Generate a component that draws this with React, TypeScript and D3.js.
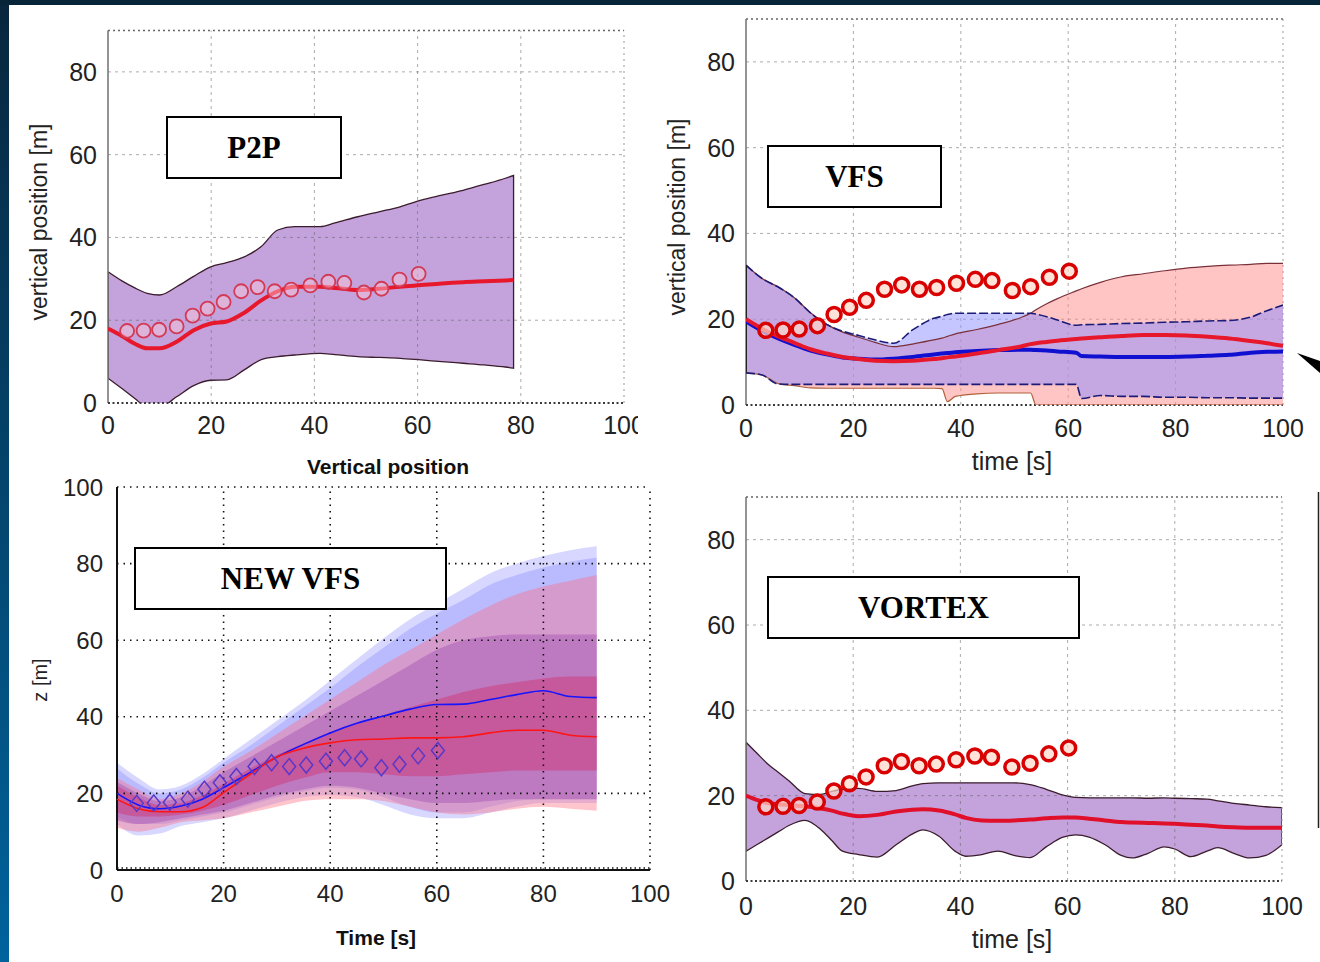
import React from 'react';
import * as d3 from 'd3';

// observed trajectory (same measurements in every panel)
const obsTime = [3.7, 6.9, 9.9, 13.3, 16.4, 19.3, 22.4, 25.8, 29.0, 32.3, 35.5, 39.2, 42.7, 45.8, 49.6, 53.0, 56.5, 60.2];
const obsZ = [17.4, 17.5, 17.7, 18.5, 21.1, 22.8, 24.4, 27.0, 28.0, 27.0, 27.4, 28.4, 29.3, 29.0, 26.7, 27.6, 29.8, 31.2];

// P2P
const p2pTime = [0, 2.7, 5.2, 7.6, 10, 13.3, 16.6, 19.9, 23, 26.4, 29.7, 32.9, 36.2, 41.1, 44, 48.4, 52.5, 56.6, 60.7, 64.7, 68.8, 72.9, 77, 78.6];
const p2pUpper = [31.7, 29.5, 27.8, 26.5, 26.1, 28.1, 30.6, 32.9, 33.9, 35.3, 37.8, 41.8, 42.6, 42.6, 43.5, 45, 46.2, 47.4, 49, 50.2, 51.4, 52.8, 54.3, 55];
const p2pLower = [6, 3.5, 1.1, -1, -1, 1.5, 4.2, 5.5, 5.6, 8, 10.5, 11.2, 11.6, 12, 11.7, 11.2, 11, 10.8, 10.4, 10, 9.6, 9.2, 8.7, 8.4];
const p2pMean = [18, 16.2, 14.3, 13.2, 13.2, 14.8, 17.6, 19.2, 19.7, 21.8, 24.8, 27, 28.1, 28.1, 27.8, 27.3, 27.6, 28.1, 28.5, 28.9, 29.2, 29.4, 29.6, 29.7];

// VFS
const vfsTime = [0, 3, 6, 9, 12, 15, 18, 21, 24, 27.5, 31, 35, 36.5, 37.5, 39, 43, 47, 51, 53, 54, 56, 58, 61.5, 62.5, 66, 70, 74, 78, 82, 86, 90, 94, 97, 100];
const vfsBlueUpper = [32.6, 29.5, 27.5, 25, 21.5, 18.8, 17.2, 16.2, 15.2, 14.4, 17.5, 20.2, 20.7, 21.1, 21.4, 21.4, 21.4, 21.4, 21.4, 21.2, 20.6, 19.8, 18.6, 18.7, 18.8, 19, 19.1, 19.3, 19.4, 19.6, 19.7, 20.5, 22, 23.3];
const vfsBlueLower = [7.5, 7, 4.9, 4.8, 4.8, 4.8, 4.8, 4.8, 4.8, 4.8, 4.8, 4.8, 4.8, 4.8, 4.8, 4.8, 4.8, 4.8, 4.8, 4.8, 4.8, 4.8, 4.8, 1.5, 2.2, 2, 2, 1.8, 1.8, 1.7, 1.7, 1.6, 1.6, 1.6];
const vfsRedUpper = [32.6, 29.5, 27.5, 25, 21.5, 18.8, 17, 15.8, 14.6, 13.6, 14.2, 15.2, 15.6, 16, 16.6, 17.6, 18.8, 20.3, 21.4, 22.2, 23.6, 24.8, 26.6, 27.1, 28.6, 29.9, 30.6, 31.3, 31.9, 32.3, 32.6, 32.8, 33, 33];
const vfsRedLower = [7.5, 7, 5, 4.5, 4, 3.9, 3.9, 3.9, 3.9, 3.9, 3.9, 3.9, 3.8, 0.8, 2, 2.6, 2.8, 2.8, 2.8, 0, 0, 0, 0, 0, 0, 0, 0, 0, 0, 0, 0, 0, 0, 0];
const vfsRedMean = [20, 17.8, 16, 14.5, 13, 12, 11.2, 10.7, 10.3, 10.2, 10.3, 10.7, 10.9, 11.1, 11.3, 12, 12.8, 13.6, 14.2, 14.4, 14.7, 15, 15.4, 15.5, 15.8, 16.1, 16.3, 16.3, 16.2, 15.9, 15.5, 14.9, 14.4, 13.8];
const vfsBlueMean = [19.5, 17.3, 15.5, 14, 12.7, 11.8, 11.1, 10.8, 10.6, 10.8, 11.2, 11.8, 12, 12.1, 12.3, 12.6, 12.8, 12.9, 12.9, 12.8, 12.7, 12.5, 12.2, 11.4, 11.3, 11.2, 11.2, 11.2, 11.3, 11.5, 11.7, 12.2, 12.4, 12.5];

// NEW VFS
const newTime = [0, 4, 8, 12, 16, 20, 25, 30, 35, 40, 45, 50, 55, 60, 65, 70, 75, 80, 85, 90];
const newBlueOutUp = [28, 24, 21, 22, 25, 29, 34, 39, 44, 49.5, 55, 60.5, 65.5, 69.5, 73.5, 77.5, 80, 82, 83.5, 84.5];
const newBlueInUp = [26.5, 22.5, 20, 21, 24, 28, 32.5, 37.5, 42.5, 47.5, 53, 58, 63, 67, 70.5, 74.5, 77, 79, 80.5, 81.5];
const newBlueInLow = [14, 12, 12, 13, 14, 15, 17, 19, 20.5, 21.5, 21, 19, 16.5, 15, 15, 16.5, 18, 18.5, 18.5, 18.5];
const newBlueOutLow = [12, 9, 9.5, 11.5, 12.5, 13.5, 15.5, 17.5, 19, 19.5, 19, 17, 14.5, 13.5, 13.5, 15, 16.5, 17.5, 17.5, 17.5];
const newRedOutUp = [24, 21, 18.5, 20, 23, 27, 31, 35.5, 40, 44.5, 49, 53.5, 57.5, 61.5, 65.5, 69, 72, 74, 75.5, 77];
const newRedMidUp = [23, 20, 18, 19, 22, 25.5, 29.5, 33.5, 37.5, 41.5, 45.5, 49.5, 53.5, 57.5, 60, 61, 61.5, 61.5, 61.5, 61.5];
const newRedInUp = [22, 19, 17, 17.5, 19.5, 22.5, 26.5, 30, 33, 36, 38.5, 40.5, 42.5, 44.5, 46.5, 48, 49, 50, 50.5, 50.5];
const newRedInLow = [15, 14, 14, 14.5, 15.5, 17, 19.5, 22, 24, 25.5, 25.5, 25, 24.5, 24.5, 25, 25.5, 26, 26, 26, 26];
const newRedMidLow = [13, 12, 12.5, 13.5, 14.5, 15.5, 17.5, 19.5, 21, 22, 21.5, 20, 18.5, 17.5, 17.5, 18, 18.5, 18.5, 18.5, 18.5];
const newRedOutLow = [11, 10, 11, 12.5, 13, 13.5, 15, 16.5, 18, 18.5, 18.5, 18, 16.5, 15, 14.5, 15, 16, 16.5, 16, 15.5];
const newBlueMean = [20, 17, 16, 16.7, 18.5, 21.5, 25.5, 29.5, 32.8, 35.8, 38.3, 40.2, 42, 43.2, 43.3, 44.5, 45.8, 46.8, 45.3, 45];
const newRedMean = [18.5, 16, 15.2, 15.2, 16.3, 20.2, 25, 29.5, 31.8, 33.2, 34, 34.2, 34.5, 34.5, 34.8, 35.8, 36.5, 36.5, 35.2, 34.8];

// VORTEX
const vorTime = [0, 2, 4, 6, 8, 11, 14, 16, 18, 21, 24.5, 28, 31, 33, 36, 39, 41, 44, 47, 50, 53, 56, 59, 61.5, 64, 67, 70, 72, 75, 78, 80, 83, 86, 88, 91, 94, 97, 100];
const vorUpper = [32.5, 30, 27.5, 25.5, 23.5, 20.5, 20.3, 21, 21.5, 21.7, 21, 21.2, 22.3, 22.8, 23, 23, 23, 23, 23, 23, 22.6, 21.5, 20.2, 19.6, 19.5, 19.5, 19.5, 19.5, 19.4, 19.5, 19.4, 19.3, 19.2, 18.8, 18.2, 17.8, 17.4, 17.2];
const vorLower = [7, 8.5, 10, 11.5, 13, 14.2, 12, 9.5, 7, 6.2, 5.6, 8.5, 11, 12, 10.5, 7, 5.8, 6.2, 7, 6, 5.5, 8, 10.2, 10.8, 10.3, 8.5, 6, 5.4, 6.5, 8, 7.5, 5.7, 7, 7.8, 6.5, 5.4, 6, 8.5];
const vorMean = [20, 19, 18.3, 18, 17.8, 17.5, 17, 16.5, 15.8, 15.2, 15.5, 16.3, 16.7, 16.8, 16.5, 15.6, 14.8, 14.2, 14.1, 14.2, 14.4, 14.7, 14.9, 14.9, 14.6, 14.2, 13.8, 13.7, 13.6, 13.5, 13.4, 13.2, 13, 12.8, 12.6, 12.5, 12.5, 12.5];

const xTicks = [0, 20, 40, 60, 80, 100];
const yTicks90 = [0, 20, 40, 60, 80];
const yTicks100 = [0, 20, 40, 60, 80, 100];

const SANS = 'Liberation Sans, Arial, sans-serif';
const SERIF = 'Liberation Serif, Times New Roman, serif';

type Scale = d3.ScaleLinear<number, number>;

const area = (x: Scale, y: Scale, t: number[], lo: number[], hi: number[]) =>
  d3.area<number>()
    .x((_, i) => x(t[i]))
    .y0((_, i) => y(lo[i]))
    .y1((_, i) => y(hi[i]))
    .curve(d3.curveMonotoneX)(t) || '';

const line = (x: Scale, y: Scale, t: number[], v: number[]) =>
  d3.line<number>()
    .x((_, i) => x(t[i]))
    .y((_, i) => y(v[i]))
    .curve(d3.curveMonotoneX)(t) || '';

// grid + axes in the grey matlab style of the scanned panels
const LightGrid = ({ x, y, yMax }: { x: Scale; y: Scale; yMax: number }) => {
  const [x0, x1] = x.range();
  return (
    <g fill="none">
      {xTicks.slice(1, -1).map(t => (
        <line key={'v' + t} x1={x(t)} x2={x(t)} y1={y(0)} y2={y(yMax)} stroke="rgba(90,90,90,0.5)" strokeDasharray="3,4" />
      ))}
      {yTicks90.slice(1).map(t => (
        <line key={'h' + t} x1={x0} x2={x1} y1={y(t)} y2={y(t)} stroke="rgba(90,90,90,0.5)" strokeDasharray="3,4" />
      ))}
      <line x1={x0} x2={x1} y1={y(yMax)} y2={y(yMax)} stroke="#666" strokeWidth={1.4} strokeDasharray="2,3" />
      <line x1={x1} x2={x1} y1={y(0)} y2={y(yMax)} stroke="#999" strokeDasharray="2,4" />
      <line x1={x0} x2={x0} y1={y(0)} y2={y(yMax)} stroke="#707070" strokeWidth={1.5} />
      <line x1={x0} x2={x1} y1={y(0)} y2={y(0)} stroke="#3a3a3a" strokeWidth={2} strokeDasharray="2,2.5" />
    </g>
  );
};

const TickLabels = ({ x, y, yt, size, xBase, gap }: { x: Scale; y: Scale; yt: number[]; size: number; xBase: number; gap: number }) => (
  <g fontFamily={SANS} fontSize={size} fill="#222">
    {xTicks.map(t => (
      <text key={'x' + t} x={x(t)} y={xBase} textAnchor="middle">{t}</text>
    ))}
    {yt.map(t => (
      <text key={'y' + t} x={x(0) - gap} y={y(t)} dy="0.36em" textAnchor="end">{t}</text>
    ))}
  </g>
);

const Label = ({ x, y, w, h, text }: { x: number; y: number; w: number; h: number; text: string }) => (
  <g>
    <rect x={x} y={y} width={w} height={h} fill="#fff" stroke="#000" strokeWidth={2} />
    <text x={x + w / 2} y={y + h / 2} dy="0.35em" textAnchor="middle" fontFamily={SERIF} fontWeight="bold" fontSize={31} fill="#000">{text}</text>
  </g>
);

const Circles = ({ x, y, stroke, width, fill }: { x: Scale; y: Scale; stroke: string; width: number; fill: string }) => (
  <g>
    {obsTime.map((t, i) => (
      <circle key={i} cx={x(t)} cy={y(obsZ[i])} r={7} fill={fill} stroke={stroke} strokeWidth={width} />
    ))}
  </g>
);

export default function App() {
  const p2pX = d3.scaleLinear().domain([0, 100]).range([108, 624]);
  const p2pY = d3.scaleLinear().domain([0, 90]).range([403, 30.5]);
  const vfsX = d3.scaleLinear().domain([0, 100]).range([746, 1283]);
  const vfsY = d3.scaleLinear().domain([0, 90]).range([405, 19]);
  const vorX = d3.scaleLinear().domain([0, 100]).range([746, 1282]);
  const vorY = d3.scaleLinear().domain([0, 90]).range([881, 497]);
  const newX = d3.scaleLinear().domain([0, 100]).range([117, 650]);
  const newY = d3.scaleLinear().domain([0, 100]).range([870, 487]);

  const purple = '#c4a3dd';
  const diamond = (cx: number, cy: number) => `M${cx},${cy - 8}L${cx + 6.5},${cy}L${cx},${cy + 8}L${cx - 6.5},${cy}Z`;

  return (
    <div style={{ position: 'absolute', left: 0, top: 0 }}>
      <svg width={1320} height={962} style={{ display: 'block', background: '#fff' }}>
        <defs>
          <linearGradient id="edge" x1="0" y1="0" x2="0" y2="1">
            <stop offset="0%" stopColor="#08263d" />
            <stop offset="100%" stopColor="#00639c" />
          </linearGradient>
          <clipPath id="p2pPlot"><rect x={108} y={20} width={516} height={383} /></clipPath>
          <clipPath id="p2pCut"><rect x={0} y={0} width={638} height={450} /></clipPath>
          <clipPath id="vfsPlot"><rect x={746} y={10} width={537} height={395} /></clipPath>
          <clipPath id="vorPlot"><rect x={746} y={490} width={536} height={391} /></clipPath>
        </defs>

        {/* ---------- P2P ---------- */}
        <g clipPath="url(#p2pCut)">
          <g clipPath="url(#p2pPlot)">
            <path d={area(p2pX, p2pY, p2pTime, p2pLower, p2pUpper)} fill={purple} stroke="#3b1c2c" strokeWidth={1.3} />
          </g>
          <LightGrid x={p2pX} y={p2pY} yMax={90} />
          <g clipPath="url(#p2pPlot)">
            <path d={line(p2pX, p2pY, p2pTime, p2pMean)} fill="none" stroke="#e8182c" strokeWidth={4} />
          </g>
          <Circles x={p2pX} y={p2pY} stroke="#d23a55" width={1.8} fill="rgba(255,200,215,0.45)" />
          <TickLabels x={p2pX} y={p2pY} yt={yTicks90} size={25} xBase={434} gap={11} />
          <text transform="translate(47,222) rotate(-90)" textAnchor="middle" fontFamily={SANS} fontSize={23} fill="#222">vertical position [m]</text>
        </g>
        <Label x={167} y={117} w={174} h={61} text="P2P" />

        {/* ---------- VFS ---------- */}
        <LightGrid x={vfsX} y={vfsY} yMax={90} />
        <g clipPath="url(#vfsPlot)">
          <path d={area(vfsX, vfsY, vfsTime, vfsRedLower, vfsRedUpper)} fill="rgba(255,140,140,0.5)" stroke="none" />
          <path d={area(vfsX, vfsY, vfsTime, vfsBlueLower, vfsBlueUpper)} fill="rgba(140,140,255,0.5)" stroke="none" />
          <path d={line(vfsX, vfsY, vfsTime, vfsRedUpper)} fill="none" stroke="#7a3038" strokeWidth={1.2} />
          <path d={line(vfsX, vfsY, vfsTime, vfsRedLower)} fill="none" stroke="#b0603a" strokeWidth={1.2} />
          <path d={line(vfsX, vfsY, vfsTime, vfsBlueUpper)} fill="none" stroke="#1c1c78" strokeWidth={1.6} strokeDasharray="9,3" />
          <path d={line(vfsX, vfsY, vfsTime, vfsBlueLower)} fill="none" stroke="#1c1c78" strokeWidth={1.6} strokeDasharray="9,3" />
          <line x1={vfsX(0)} x2={vfsX(0)} y1={vfsY(vfsBlueLower[0])} y2={vfsY(vfsBlueUpper[0])} stroke="#222" strokeWidth={2} />
          <path d={line(vfsX, vfsY, vfsTime, vfsBlueMean)} fill="none" stroke="#1010d0" strokeWidth={4} />
          <path d={line(vfsX, vfsY, vfsTime, vfsRedMean)} fill="none" stroke="#e8182c" strokeWidth={4} />
        </g>
        <Circles x={vfsX} y={vfsY} stroke="#d80000" width={3.5} fill="rgba(255,215,200,0.7)" />
        <TickLabels x={vfsX} y={vfsY} yt={yTicks90} size={25} xBase={437} gap={11} />
        <text transform="translate(685,217) rotate(-90)" textAnchor="middle" fontFamily={SANS} fontSize={23} fill="#222">vertical position [m]</text>
        <text x={1012} y={470} textAnchor="middle" fontFamily={SANS} fontSize={25} fill="#222">time [s]</text>
        <Label x={768} y={146} w={173} h={61} text="VFS" />
        <polygon points="1297,353 1320,361 1320,373" fill="#000" />

        {/* ---------- NEW VFS ---------- */}
        <text x={388} y={474} textAnchor="middle" fontFamily={SANS} fontWeight="bold" fontSize={21} fill="#111">Vertical position</text>
        <g>
          <path d={area(newX, newY, newTime, newBlueOutLow, newBlueOutUp)} fill="rgba(110,110,255,0.28)" />
          <path d={area(newX, newY, newTime, newBlueInLow, newBlueInUp)} fill="rgba(110,110,255,0.28)" />
          <path d={area(newX, newY, newTime, newRedOutLow, newRedOutUp)} fill="rgba(255,110,130,0.4)" />
          <path d={area(newX, newY, newTime, newRedMidLow, newRedMidUp)} fill="rgba(150,60,170,0.35)" />
          <path d={area(newX, newY, newTime, newRedInLow, newRedInUp)} fill="rgba(210,40,100,0.4)" />
        </g>
        <g fill="none" stroke="#111" strokeWidth={1.6} strokeDasharray="1.5,5">
          {xTicks.slice(1).map(t => <line key={'nv' + t} x1={newX(t)} x2={newX(t)} y1={newY(0)} y2={newY(100)} />)}
          {yTicks100.slice(1).map(t => <line key={'nh' + t} x1={newX(0)} x2={newX(100)} y1={newY(t)} y2={newY(t)} />)}
        </g>
        <line x1={newX(0)} x2={newX(0)} y1={newY(0)} y2={newY(100)} stroke="#111" strokeWidth={2} />
        <line x1={newX(0)} x2={newX(100)} y1={newY(0)} y2={newY(0)} stroke="#111" strokeWidth={2} />
        <line x1={newX(0)} x2={newX(100)} y1={newY(0) - 2} y2={newY(0) - 2} stroke="#111" strokeWidth={1.5} strokeDasharray="1.5,3" />
        <path d={line(newX, newY, newTime, newBlueMean)} fill="none" stroke="#1515ff" strokeWidth={1.6} />
        <path d={line(newX, newY, newTime, newRedMean)} fill="none" stroke="#ff1515" strokeWidth={1.6} />
        <g fill="none" stroke="#5a38c8" strokeWidth={1.5}>
          {obsTime.map((t, i) => <path key={i} d={diamond(newX(t), newY(obsZ[i]))} />)}
        </g>
        <TickLabels x={newX} y={newY} yt={yTicks100} size={24} xBase={902} gap={14} />
        <text transform="translate(47,680) rotate(-90)" textAnchor="middle" fontFamily={SANS} fontSize={20} fill="#222">z [m]</text>
        <text x={376} y={945} textAnchor="middle" fontFamily={SANS} fontWeight="bold" fontSize={21} fill="#111">Time [s]</text>
        <Label x={135} y={548} w={311} h={61} text="NEW VFS" />

        {/* ---------- VORTEX ---------- */}
        <g clipPath="url(#vorPlot)">
          <path d={area(vorX, vorY, vorTime, vorLower, vorUpper)} fill={purple} stroke="#3b1c2c" strokeWidth={1.3} />
        </g>
        <LightGrid x={vorX} y={vorY} yMax={90} />
        <g clipPath="url(#vorPlot)">
          <path d={line(vorX, vorY, vorTime, vorMean)} fill="none" stroke="#e0102a" strokeWidth={4} />
        </g>
        <Circles x={vorX} y={vorY} stroke="#d80000" width={3.5} fill="rgba(255,215,200,0.7)" />
        <TickLabels x={vorX} y={vorY} yt={yTicks90} size={25} xBase={915} gap={11} />
        <text x={1012} y={948} textAnchor="middle" fontFamily={SANS} fontSize={25} fill="#222">time [s]</text>
        <Label x={768} y={577} w={311} h={61} text="VORTEX" />
        <line x1={1318.5} x2={1318.5} y1={492} y2={828} stroke="#222" strokeWidth={1.5} />

        {/* slide background edges */}
        <rect x={0} y={0} width={9} height={962} fill="url(#edge)" />
        <rect x={0} y={0} width={1320} height={5} fill="#072539" />
      </svg>
    </div>
  );
}
